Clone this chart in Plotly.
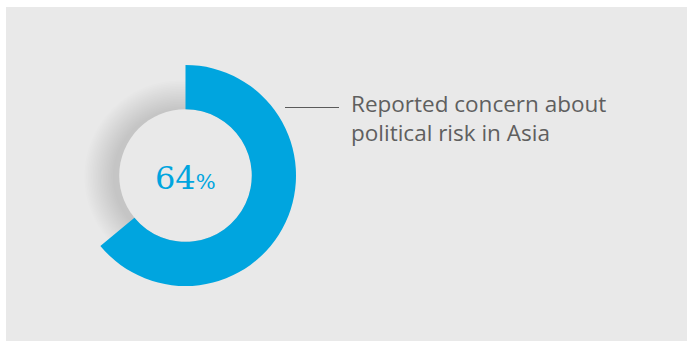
import plotly.graph_objects as go

# ---- data ----
slice_labels = ["Reported concern", "Other"]
slice_values = [64, 36]
center_value = "64"
center_unit = "%"
label_text = "Reported concern about<br>political risk in Asia"

# ---- style ----
W, H = 687, 342
BLUE = "#00a5df"
BG = "#e9e9e9"

# donut geometry in pixels (margins are zero, so paper == pixels)
cx, cy, R = 185.5, 175.5, 110.5
hole = 0.6

def px_x(x):
    return x / W

def px_y(y):
    return 1 - y / H

fig = go.Figure()
fig.add_trace(go.Pie(
    labels=slice_labels,
    values=slice_values,
    hole=hole,
    sort=False,
    direction="clockwise",
    rotation=0,
    marker=dict(colors=[BLUE, "rgba(0,0,0,0)"], line=dict(width=0)),
    textinfo="none",
    hoverinfo="skip",
    showlegend=False,
    domain=dict(x=[px_x(cx - R), px_x(cx + R)], y=[px_y(cy + R), px_y(cy - R)]),
))

shapes = []
# grey panel
shapes.append(dict(type="rect", xref="paper", yref="paper", layer="below",
                   x0=px_x(6), x1=1.0, y0=px_y(341), y1=px_y(7),
                   fillcolor=BG, line=dict(width=0)))
# soft shadow around the inner disc
r_in = R * hole
sx, sy = cx - 5, cy + 1
n = 18
for i in range(n):
    r = r_in + 30 - i * 30 / n
    shapes.append(dict(type="circle", xref="paper", yref="paper", layer="below",
                       x0=px_x(sx - r), x1=px_x(sx + r), y0=px_y(sy + r), y1=px_y(sy - r),
                       fillcolor="rgba(0,0,0,0.007)", line=dict(width=0)))
# inner disc
shapes.append(dict(type="circle", xref="paper", yref="paper", layer="below",
                   x0=px_x(cx - r_in), x1=px_x(cx + r_in), y0=px_y(cy + r_in), y1=px_y(cy - r_in),
                   fillcolor=BG, line=dict(width=0)))
# leader line
shapes.append(dict(type="line", xref="paper", yref="paper",
                   x0=px_x(285), x1=px_x(339), y0=px_y(107.5), y1=px_y(107.5),
                   line=dict(color="#5a5a5a", width=1)))

annotations = [
    dict(xref="paper", yref="paper", x=px_x(cx), y=px_y(178), xanchor="center", yanchor="middle",
         showarrow=False,
         text=center_value + "<span style='font-size:21px'>" + center_unit + "</span>",
         font=dict(family="DejaVu Serif", size=32, color=BLUE)),
    dict(xref="paper", yref="paper", x=px_x(349), y=px_y(86), xanchor="left", yanchor="top",
         showarrow=False, align="left", text=label_text,
         font=dict(family="Open Sans", size=22.5, color="#5f5f5f")),
]

fig.update_layout(
    width=W, height=H,
    margin=dict(l=0, r=0, t=0, b=0),
    paper_bgcolor="white",
    shapes=shapes,
    annotations=annotations,
)

fig.write_html("out.html", config={"displayModeBar": False},
               post_script="document.body.style.margin='0px';")
